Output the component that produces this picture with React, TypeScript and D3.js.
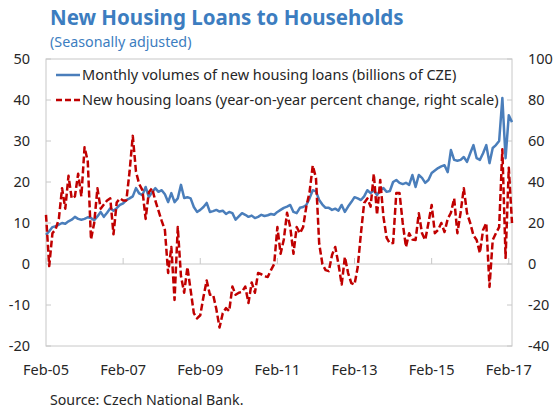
import React from "react";
import * as d3 from "d3";

const startYear = 2005;
const startMonth = 1; // February (0-based)

// Monthly volumes of new housing loans (billions of CZK), Feb-05 .. Mar-17
const volumes: number[] = [
  7.1, 8.0, 9.0, 9.2, 9.6, 10.0, 9.8, 10.4, 10.8, 11.5, 11.0, 10.8,
  11.0, 11.4, 11.2, 10.7, 11.6, 12.7, 11.5, 12.5, 13.6, 13.0, 13.6, 14.4,
  14.8, 15.6, 16.0, 16.5, 18.5, 17.2, 16.8, 18.8, 16.3, 17.5, 18.5, 17.6,
  18.0, 17.0, 15.1, 17.3, 15.1, 16.0, 19.3, 16.1, 16.3, 16.0, 13.9, 12.7,
  13.2, 13.9, 14.9, 12.7, 12.9, 13.2, 12.8, 13.0, 12.2, 12.7, 12.4, 10.8,
  11.6, 12.4, 12.0, 11.5, 11.8, 11.2, 11.5, 12.0, 11.7, 11.9, 12.2, 12.0,
  12.7, 13.2, 13.7, 14.0, 14.4, 12.7, 12.4, 13.7, 13.9, 14.4, 16.0, 18.0,
  17.7, 15.6, 14.5, 13.7, 13.7, 13.2, 13.5, 13.0, 14.4, 12.7, 14.0, 15.1,
  16.3, 16.0, 15.6, 16.5, 18.0, 17.3, 18.0, 16.8, 18.0, 18.5, 17.6, 17.8,
  20.0, 20.5, 19.8, 19.5, 19.8, 19.3, 21.7, 18.8, 21.7, 21.0, 19.8, 20.5,
  22.2, 22.8, 23.4, 23.8, 24.1, 22.4, 27.8, 25.4, 25.2, 25.4, 26.1, 24.9,
  27.0, 29.0, 25.8, 25.4, 27.0, 29.0, 24.6, 28.3, 29.0, 30.0, 40.5, 25.8, 36.3, 34.6,
];

// New housing loans, year-on-year percent change (right scale)
const yoyChange: number[] = [
  24, -1, 15, 17, 22, 37, 27, 43, 32, 33, 44, 33,
  57, 50, 12, 20, 37, 27, 29, 31, 32, 14.5, 30, 32,
  31, 31, 45, 62.5, 45, 39, 36, 22, 35, 37, 31, 26,
  21, 16.6, -4.4, 8.3, -17.5, 18, -6, -14, -1.5, -12.7, -24, -26.5,
  -25, -16, -8, -15, -15, -22, -31, -24, -21.5, -23, -11, -15,
  -14, -13.6, -11, -19, -9, -14, -4.4, -5, -6, -6.3, -3, 0,
  18, 5, 12, 25, 18, 5, 18, 15, 18, 28, 35, 48,
  42, 10, 0, -3, -3.5, 4.4, 8.3, 0, -10, 3.4, -4.4, -9.3,
  -10, -1.5, 15, 29.8, 32, 28, 44, 24, 41, 23, 12.7, 10,
  10.2, 34.6, 34.6, 20, 8.3, 15, 12, 11.7, 24.8, 15, 11.7, 20,
  28.8, 15, 16.6, 20, 15.6, 22, 25, 32, 15, 25, 37, 24.8,
  20, 14, 11.7, 5.4, 16.6, 20, -11.2, 11.7, 15, 18, 56, 3, 47, 20,
];

const leftTicks = [-20, -10, 0, 10, 20, 30, 40, 50];
const rightTicks = [-40, -20, 0, 20, 40, 60, 80, 100];
const xTickLabels = ["Feb-05", "Feb-07", "Feb-09", "Feb-11", "Feb-13", "Feb-15", "Feb-17"];
const xTickIndex = [0, 24, 48, 72, 96, 120, 144];

const legendLabels = [
  "Monthly volumes of new housing loans (billions of CZE)",
  "New housing loans (year-on-year percent change, right scale)",
];

const title = "New Housing Loans to Households";
const subtitle = "(Seasonally adjusted)";
const source = "Source: Czech National Bank.";

const BLUE = "#4A7EBB";
const RED = "#C00000";
const TITLE = "#3C7DC0";
const AXIS = "#C8C8C8";
const TEXT = "#262626";
const FONT = "'Noto Sans', 'Open Sans', sans-serif";

export default function App() {
  const left = 46, right = 512, top = 59, bottom = 346;
  const n = volumes.length;
  const x = d3.scaleLinear().domain([0, n - 1]).range([left, right]);
  const yL = d3.scaleLinear().domain([-20, 50]).range([bottom, top]);
  const yR = d3.scaleLinear().domain([-40, 100]).range([bottom, top]);

  const blueLine = d3.line<number>().x((_, i) => x(i)).y((d) => yL(d))(volumes) || "";
  const redLine = d3.line<number>().x((_, i) => x(i)).y((d) => yR(d))(yoyChange) || "";
  const zeroY = yL(0);

  return (
    <svg width={553} height={408} style={{ position: "absolute", left: 0, top: 0, background: "#fff" }} fontFamily={FONT}>
      <rect x={0} y={0} width={553} height={408} fill="#fff" />
      <text x={50} y={25} fontSize={20.5} fontWeight={700} fill={TITLE}>{title}</text>
      <text x={50} y={47} fontSize={14.3} fill={TITLE}>{subtitle}</text>

      <rect x={left} y={top} width={right - left} height={bottom - top} fill="none" stroke={AXIS} strokeWidth={1} />
      <line x1={left} x2={right} y1={zeroY} y2={zeroY} stroke={AXIS} strokeWidth={1} />
      {xTickIndex.map((ti, k) => (
        <line key={"xt" + k} x1={x(ti)} x2={x(ti)} y1={zeroY} y2={zeroY - 6} stroke={AXIS} strokeWidth={1} />
      ))}
      {leftTicks.map((t) => (
        <g key={"l" + t}>
          <line x1={left} x2={left + 5} y1={yL(t)} y2={yL(t)} stroke={AXIS} />
          <text x={30} y={yL(t)} dy="0.35em" textAnchor="end" fontSize={14.5} fill={TEXT}>{t}</text>
        </g>
      ))}
      {rightTicks.map((t) => (
        <g key={"r" + t}>
          <line x1={right - 5} x2={right} y1={yR(t)} y2={yR(t)} stroke={AXIS} />
          <text x={528} y={yR(t)} dy="0.35em" textAnchor="start" fontSize={14.5} fill={TEXT}>{t}</text>
        </g>
      ))}
      {xTickIndex.map((ti, k) => (
        <text key={"xl" + k} x={x(ti)} y={370} dy="0.35em" textAnchor="middle" fontSize={14.5} fill={TEXT}>
          {xTickLabels[k]}
        </text>
      ))}

      <path d={blueLine} fill="none" stroke={BLUE} strokeWidth={2.5} strokeLinejoin="round" />
      <path d={redLine} fill="none" stroke={RED} strokeWidth={2.5} strokeDasharray="7,3" strokeLinejoin="round" />

      <line x1={56} x2={80} y1={75} y2={75} stroke={BLUE} strokeWidth={2.5} />
      <text x={82} y={75} dy="0.35em" fontSize={14.5} fill={TEXT}>{legendLabels[0]}</text>
      <line x1={56} x2={80} y1={100} y2={100} stroke={RED} strokeWidth={2.5} strokeDasharray="6,3" />
      <text x={82} y={100} dy="0.35em" fontSize={14.5} fill={TEXT}>{legendLabels[1]}</text>

      <text x={50} y={400} dy="0.35em" fontSize={14.2} fill={TEXT}>{source}</text>
    </svg>
  );
}
